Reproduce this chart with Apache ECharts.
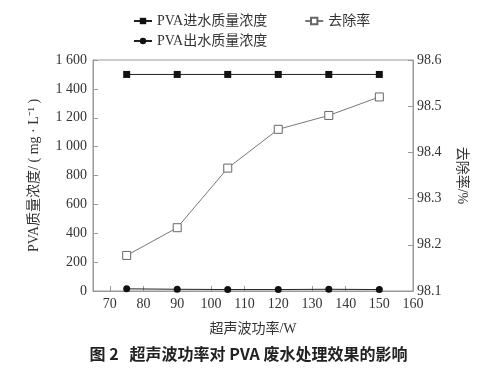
<!DOCTYPE html>
<html><head><meta charset="utf-8">
<script src="https://cdn.jsdelivr.net/npm/echarts@6/dist/echarts.min.js"></script>
<style>html,body{margin:0;padding:0;background:#fff}#c{width:497px;height:376px}</style>
</head><body><div id="c"></div>
<script>
const powers = [75, 90, 105, 120, 135, 150];
const inflow = [1500, 1500, 1500, 1500, 1500, 1500];
const outflow = [15, 12, 10, 10, 12, 10];
const removal = [98.177, 98.237, 98.366, 98.450, 98.480, 98.520];
const xTicks = [70, 80, 90, 100, 110, 120, 130, 140, 150, 160];
const serif = '"Liberation Serif","Noto Sans CJK SC",serif';
const txt = '#333';
const axc = '#999';
const pair = (xs, ys) => xs.map((x, i) => [x, ys[i]]);
const chart = echarts.init(document.getElementById('c'));
chart.setOption({
  animation: false,
  textStyle: {fontFamily: serif, color: txt},
  grid: {left: 93, right: 84, top: 60, bottom: 85, show: true, borderColor: axc, borderWidth: 1},
  legend: [
    {data: ['PVA进水质量浓度', '去除率'], left: 128, top: 9, itemWidth: 18, itemHeight: 8, itemGap: 37,
     textStyle: {fontFamily: serif, fontSize: 14, color: txt}},
    {data: ['PVA出水质量浓度'], left: 128, top: 29, itemWidth: 18, itemHeight: 8,
     textStyle: {fontFamily: serif, fontSize: 14, color: txt}}
  ],
  xAxis: {
    type: 'value', min: 65, max: 160,
    name: '超声波功率/W', nameLocation: 'middle', nameGap: 31,
    nameTextStyle: {fontFamily: serif, fontSize: 14, color: txt},
    axisLine: {lineStyle: {color: axc}},
    axisTick: {inside: true, length: 5, lineStyle: {color: axc}, customValues: xTicks},
    axisLabel: {fontFamily: serif, fontSize: 14, color: txt, margin: 6, customValues: xTicks},
    splitLine: {show: false}
  },
  yAxis: [
    {type: 'value', min: 0, max: 1600, interval: 200,
     name: 'PVA质量浓度/ ( mg · L⁻¹ )', nameLocation: 'middle', nameGap: 52, nameRotate: 90,
     nameTextStyle: {fontFamily: serif, fontSize: 14, color: txt},
     axisLine: {show: true, lineStyle: {color: axc}},
     axisTick: {show: true, inside: true, length: 5, lineStyle: {color: axc}},
     axisLabel: {fontFamily: serif, fontSize: 14, color: txt, margin: 6,
       formatter: v => v >= 1000 ? String(v).replace(/(\d)(\d{3})$/, '$1 $2') : String(v)},
     splitLine: {show: false}},
    {type: 'value', min: 98.1, max: 98.6, interval: 0.1, position: 'right',
     name: '去除率/%', nameLocation: 'middle', nameGap: 42, nameRotate: -90,
     nameTextStyle: {fontFamily: serif, fontSize: 14, color: txt},
     axisLine: {show: true, lineStyle: {color: axc}},
     axisTick: {show: true, inside: true, length: 5, lineStyle: {color: axc}},
     axisLabel: {fontFamily: serif, fontSize: 14, color: txt, margin: 4, formatter: v => v.toFixed(1)},
     splitLine: {show: false}}
  ],
  series: [
    {name: 'PVA进水质量浓度', type: 'line', data: pair(powers, inflow), yAxisIndex: 0,
     symbol: 'rect', symbolSize: 7, lineStyle: {color: '#222', width: 1}, itemStyle: {color: '#111'}},
    {name: '去除率', type: 'line', data: pair(powers, removal), yAxisIndex: 1,
     symbol: 'rect', symbolSize: 8, lineStyle: {color: '#777', width: 1},
     itemStyle: {color: '#fff', borderColor: '#666', borderWidth: 1}},
    {name: 'PVA出水质量浓度', type: 'line', data: pair(powers, outflow), yAxisIndex: 0,
     symbol: 'circle', symbolSize: 7, lineStyle: {color: '#222', width: 1}, itemStyle: {color: '#111'}}
  ],
  graphic: [{type: 'text', left: 'center', top: 346,
    style: {text: '图 2   超声波功率对 PVA 废水处理效果的影响', fontFamily: '"Noto Sans CJK SC",sans-serif',
      fontSize: 16, fontWeight: 'bold', fill: '#222'}}]
});
</script></body></html>
